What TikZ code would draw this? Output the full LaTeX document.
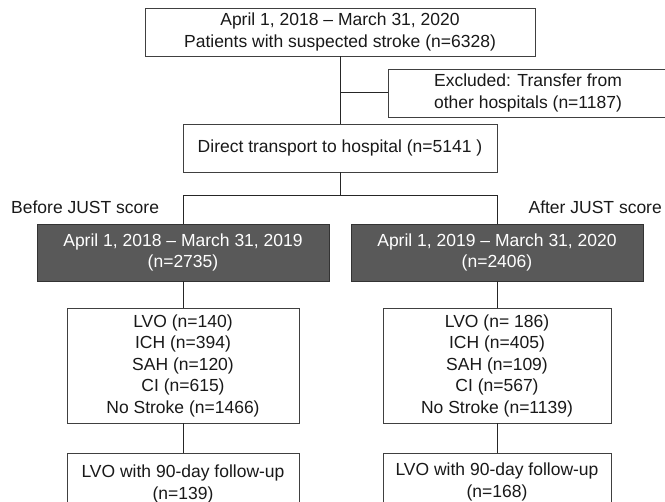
\documentclass[tikz,border=0pt]{standalone}
\usepackage{fontspec}
\setmainfont{Liberation Sans}
\begin{document}
\begin{tikzpicture}[x=1pt,y=-1pt,
  box/.style={draw=black!75,line width=0.9pt,fill=white,align=center,inner sep=0pt,
    font=\fontsize{17.5}{21.5}\selectfont,text=black!90},
  darkbox/.style={box,draw=black!80,fill=black!65,text=white!94},
  lbl/.style={inner sep=0pt,font=\fontsize{17.5}{21.5}\selectfont,text=black!90},
  conn/.style={draw=black!85,line width=1pt}]
\useasboundingbox (0,0) rectangle (665,502);
\clip (0,0) rectangle (665,502);
% boxes
\node[box,minimum width=390pt,minimum height=48pt] (top) at (340,32)
  {April 1, 2018 -- March 31, 2020\\Patients with suspected stroke (n=6328)};
\node[box,minimum width=280pt,minimum height=48pt] (excl) at (528,93)
  {Excluded: Transfer from\\other hospitals (n=1187)};
\node[box,minimum width=314pt,minimum height=48pt] (direct) at (340,148)
  {Direct transport to hospital (n=5141 )};
\node[darkbox,minimum width=292pt,minimum height=57pt] (preA) at (183,252.5)
  {April 1, 2018 -- March 31, 2019\\(n=2735)};
\node[darkbox,minimum width=292pt,minimum height=57pt] (postA) at (497,252.5)
  {April 1, 2019 -- March 31, 2020\\(n=2406)};
\node[box,minimum width=232pt,minimum height=115pt] (preB) at (183,365.5)
  {LVO (n=140)\\ICH (n=394)\\SAH (n=120)\\CI (n=615)\\No Stroke (n=1466)};
\node[box,minimum width=228pt,minimum height=115pt] (postB) at (497,365.5)
  {LVO (n= 186)\\ICH (n=405)\\SAH (n=109)\\CI (n=567)\\No Stroke (n=1139)};
\node[box,minimum width=232pt,minimum height=58pt,text depth=0pt] (preC) at (183,482)
  {\raisebox{0pt}{LVO with 90-day follow-up}\\(n=139)};
\node[box,minimum width=228pt,minimum height=58pt] (postC) at (497,482)
  {LVO with 90-day follow-up\\(n=168)};
% labels
\node[lbl,anchor=west] (before) at (11,207) {Before JUST score};
\node[lbl,anchor=east] (after) at (662,207) {After JUST score};
% connectors
\coordinate (j1) at (top.south |- excl.west);
\coordinate (s1) at (340,196);
\coordinate (sl) at (preA.north |- s1);
\coordinate (sr) at (postA.north |- s1);
\draw[conn] (top.south) -- (direct.north);
\draw[conn] (j1) -- (excl.west);
\draw[conn] (direct.south) -- (s1);
\draw[conn] (preA.north) -- (sl) -- (sr) -- (postA.north);
\draw[conn] (preA.south) -- (preB.north);
\draw[conn] (postA.south) -- (postB.north);
\draw[conn] (preB.south) -- (preC.north);
\draw[conn] (postB.south) -- (postC.north);
\end{tikzpicture}
\end{document}
